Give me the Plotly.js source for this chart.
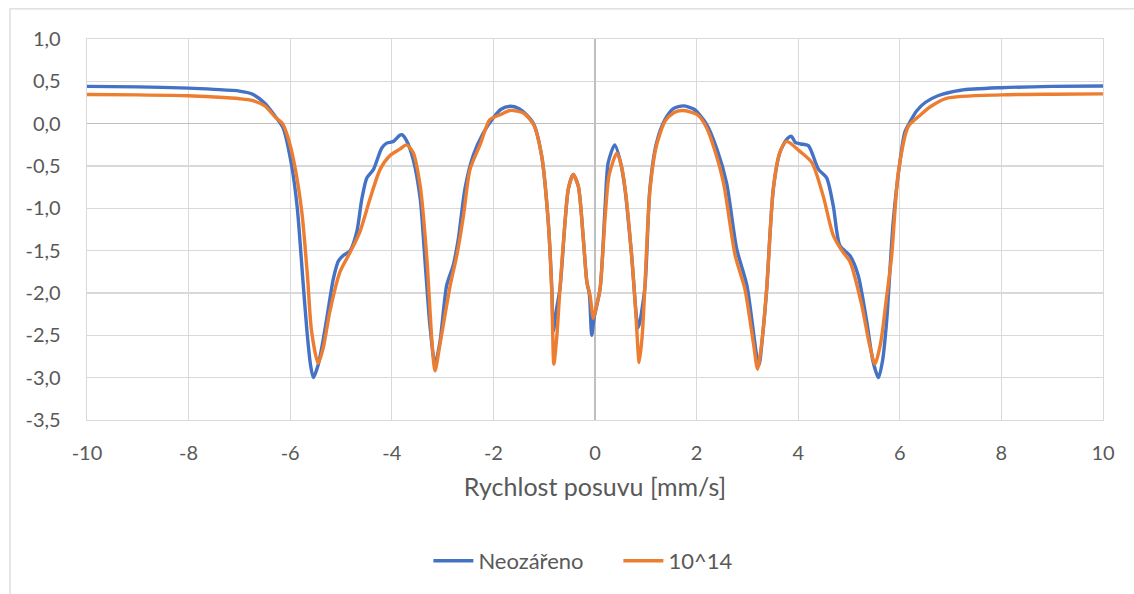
<!DOCTYPE html>
<html>
<head>
<meta charset="utf-8">
<script src="https://cdn.plot.ly/plotly-3.0.1.min.js"></script>
<style>html,body{margin:0;padding:0;background:#fff;}#chart{width:1134px;height:594px;}</style>
</head>
<body>
<div id="chart"></div>
<script>
// Series: Neozářeno
const xNeo = [-10,-9,-8,-7.5,-7,-6.75,-6.5,-6.3,-6.14,-5.97,-5.86,-5.75,-5.67,-5.6,-5.545,-5.45,-5.35,-5.28,-5.15,-5.05,-4.95,-4.82,-4.69,-4.59,-4.49,-4.36,-4.2,-4.1,-3.97,-3.85,-3.8,-3.71,-3.58,-3.44,-3.35,-3.25,-3.15,-3.05,-2.92,-2.79,-2.69,-2.56,-2.4,-2.2,-2.0,-1.85,-1.67,-1.5,-1.41,-1.21,-1.05,-0.92,-0.85,-0.82,-0.76,-0.69,-0.59,-0.525,-0.43,-0.33,-0.23,-0.16,-0.11,-0.065,-0.02,0.1,0.2,0.26,0.39,0.5,0.59,0.72,0.85,0.98,1.08,1.21,1.38,1.55,1.74,1.95,2.2,2.4,2.59,2.79,2.99,3.18,3.23,3.3,3.38,3.51,3.64,3.78,3.87,3.94,4.05,4.2,4.4,4.56,4.69,4.82,5.02,5.18,5.35,5.47,5.58,5.66,5.74,5.87,6.0,6.1,6.2,6.33,6.5,6.75,7.2,8.0,9.0,10];
const yNeo = [0.44,0.435,0.42,0.405,0.385,0.35,0.24,0.09,-0.05,-0.5,-1.0,-1.85,-2.45,-2.85,-3.0,-2.85,-2.55,-2.3,-1.83,-1.62,-1.555,-1.5,-1.28,-0.89,-0.64,-0.54,-0.29,-0.23,-0.21,-0.14,-0.13,-0.2,-0.42,-0.89,-1.59,-2.38,-2.84,-2.57,-1.91,-1.67,-1.36,-0.77,-0.38,-0.11,0.07,0.17,0.205,0.18,0.14,0.0,-0.38,-1.16,-1.95,-2.45,-2.2,-1.95,-1.16,-0.77,-0.6,-0.735,-1.36,-1.87,-2.02,-2.5,-2.3,-1.95,-0.97,-0.46,-0.25,-0.45,-0.77,-1.55,-2.41,-1.95,-0.77,-0.23,0.05,0.18,0.21,0.17,-0.01,-0.3,-0.7,-1.48,-1.91,-2.73,-2.85,-2.5,-1.95,-0.77,-0.34,-0.18,-0.15,-0.22,-0.24,-0.26,-0.54,-0.64,-0.97,-1.44,-1.56,-1.79,-2.34,-2.8,-3.0,-2.8,-2.34,-1.16,-0.46,-0.1,0.02,0.15,0.25,0.33,0.395,0.425,0.44,0.445];

// Series: 10^14
const x1014 = [-10,-9,-8,-7.5,-7,-6.75,-6.5,-6.3,-6.15,-6.05,-5.91,-5.77,-5.66,-5.58,-5.45,-5.35,-5.22,-5.02,-4.82,-4.63,-4.43,-4.23,-4.04,-3.84,-3.71,-3.58,-3.44,-3.31,-3.21,-3.15,-3.05,-2.85,-2.72,-2.59,-2.46,-2.26,-2.07,-1.87,-1.67,-1.41,-1.21,-1.05,-0.92,-0.85,-0.81,-0.75,-0.69,-0.59,-0.525,-0.43,-0.33,-0.23,-0.16,-0.1,-0.03,0.03,0.1,0.2,0.28,0.43,0.52,0.61,0.72,0.8,0.87,0.93,0.98,1.08,1.21,1.38,1.55,1.71,1.87,2.03,2.2,2.35,2.53,2.76,2.95,3.12,3.2,3.28,3.38,3.51,3.64,3.77,4.04,4.27,4.49,4.69,4.86,5.02,5.25,5.4,5.51,5.62,5.74,5.84,5.97,6.17,6.4,6.6,6.92,8.0,9.0,10];
const y1014 = [0.345,0.34,0.33,0.315,0.295,0.275,0.21,0.08,0.0,-0.15,-0.5,-1.05,-1.8,-2.45,-2.83,-2.65,-2.22,-1.75,-1.52,-1.28,-0.89,-0.54,-0.38,-0.3,-0.25,-0.34,-0.74,-1.59,-2.57,-2.92,-2.6,-1.91,-1.555,-1.09,-0.54,-0.246,0.047,0.105,0.156,0.125,-0.01,-0.38,-1.16,-2.0,-2.84,-2.5,-1.95,-1.16,-0.77,-0.6,-0.735,-1.36,-1.87,-2.02,-2.3,-2.15,-1.95,-1.1,-0.6,-0.35,-0.5,-0.85,-1.55,-2.2,-2.82,-2.5,-1.95,-0.8,-0.26,0.03,0.13,0.156,0.14,0.1,-0.05,-0.3,-0.7,-1.56,-1.95,-2.6,-2.9,-2.6,-1.95,-0.77,-0.34,-0.21,-0.33,-0.46,-0.85,-1.32,-1.5,-1.63,-2.14,-2.6,-2.84,-2.6,-2.05,-1.56,-0.58,-0.03,0.1,0.2,0.3,0.34,0.348,0.352];

// Tick labels
const xTickVals = [-10,-8,-6,-4,-2,0,2,4,6,8,10];
const xTickText = ['-10','-8','-6','-4','-2','0','2','4','6','8','10'];
const yTickVals = [1.0,0.5,0.0,-0.5,-1.0,-1.5,-2.0,-2.5,-3.0,-3.5];
const yTickText = ['1,0','0,5','0,0','-0,5','-1,0','-1,5','-2,0','-2,5','-3,0','-3,5'];

const seriesNames = ['Neozářeno','10^14'];
const xTitle = 'Rychlost posuvu [mm/s]';

const FONT = 'Lato, "Liberation Sans", sans-serif';
const traces = [
  {x: xNeo, y: yNeo, name: seriesNames[0], mode: 'lines',
   line: {color: '#4472C4', width: 3.4, shape: 'spline', smoothing: 0.7}},
  {x: x1014, y: y1014, name: seriesNames[1], mode: 'lines',
   line: {color: '#ED7D31', width: 3.4, shape: 'spline', smoothing: 0.7}}
];

const layout = {
  width: 1134, height: 594,
  margin: {l: 87, r: 31, t: 39, b: 172},
  paper_bgcolor: '#ffffff', plot_bgcolor: '#ffffff',
  font: {family: FONT, color: '#595959', size: 20},
  showlegend: true,
  legend: {orientation: 'h', x: 0.336, xanchor: 'left', y: -0.37, yanchor: 'middle',
           font: {family: FONT, size: 22, color: '#595959'}, itemwidth: 40, entrywidth: 135, tracegroupgap: 0},
  xaxis: {
    range: [-10, 10], tickvals: xTickVals, ticktext: xTickText,
    showgrid: true, gridcolor: '#d9d9d9', gridwidth: 1.3,
    zeroline: true, zerolinecolor: '#bfbfbf', zerolinewidth: 1.5,
    showline: true, linecolor: '#d9d9d9', linewidth: 1.3, mirror: true,
    ticks: '', ticklabelstandoff: 15,
    tickfont: {family: FONT, size: 20, color: '#595959'},
    title: {text: xTitle, font: {family: FONT, size: 25, color: '#595959'}, standoff: 15}
  },
  yaxis: {
    range: [-3.5, 1.0], tickvals: yTickVals, ticktext: yTickText,
    showgrid: true, gridcolor: '#d9d9d9', gridwidth: 1.3,
    zeroline: true, zerolinecolor: '#bfbfbf', zerolinewidth: 1.5,
    showline: true, linecolor: '#d9d9d9', linewidth: 1.3, mirror: true,
    ticks: '', ticklabelstandoff: 21,
    tickfont: {family: FONT, size: 20, color: '#595959'}
  },
  shapes: [{type: 'rect', xref: 'paper', yref: 'paper', x0: -0.0758, x1: 1.05, y0: -0.48, y1: 1.079,
            line: {color: '#d9d9d9', width: 1.3}, fillcolor: 'rgba(0,0,0,0)', layer: 'below'}]
};

Plotly.newPlot('chart', traces, layout, {staticPlot: true, displayModeBar: false});
</script>
</body>
</html>
